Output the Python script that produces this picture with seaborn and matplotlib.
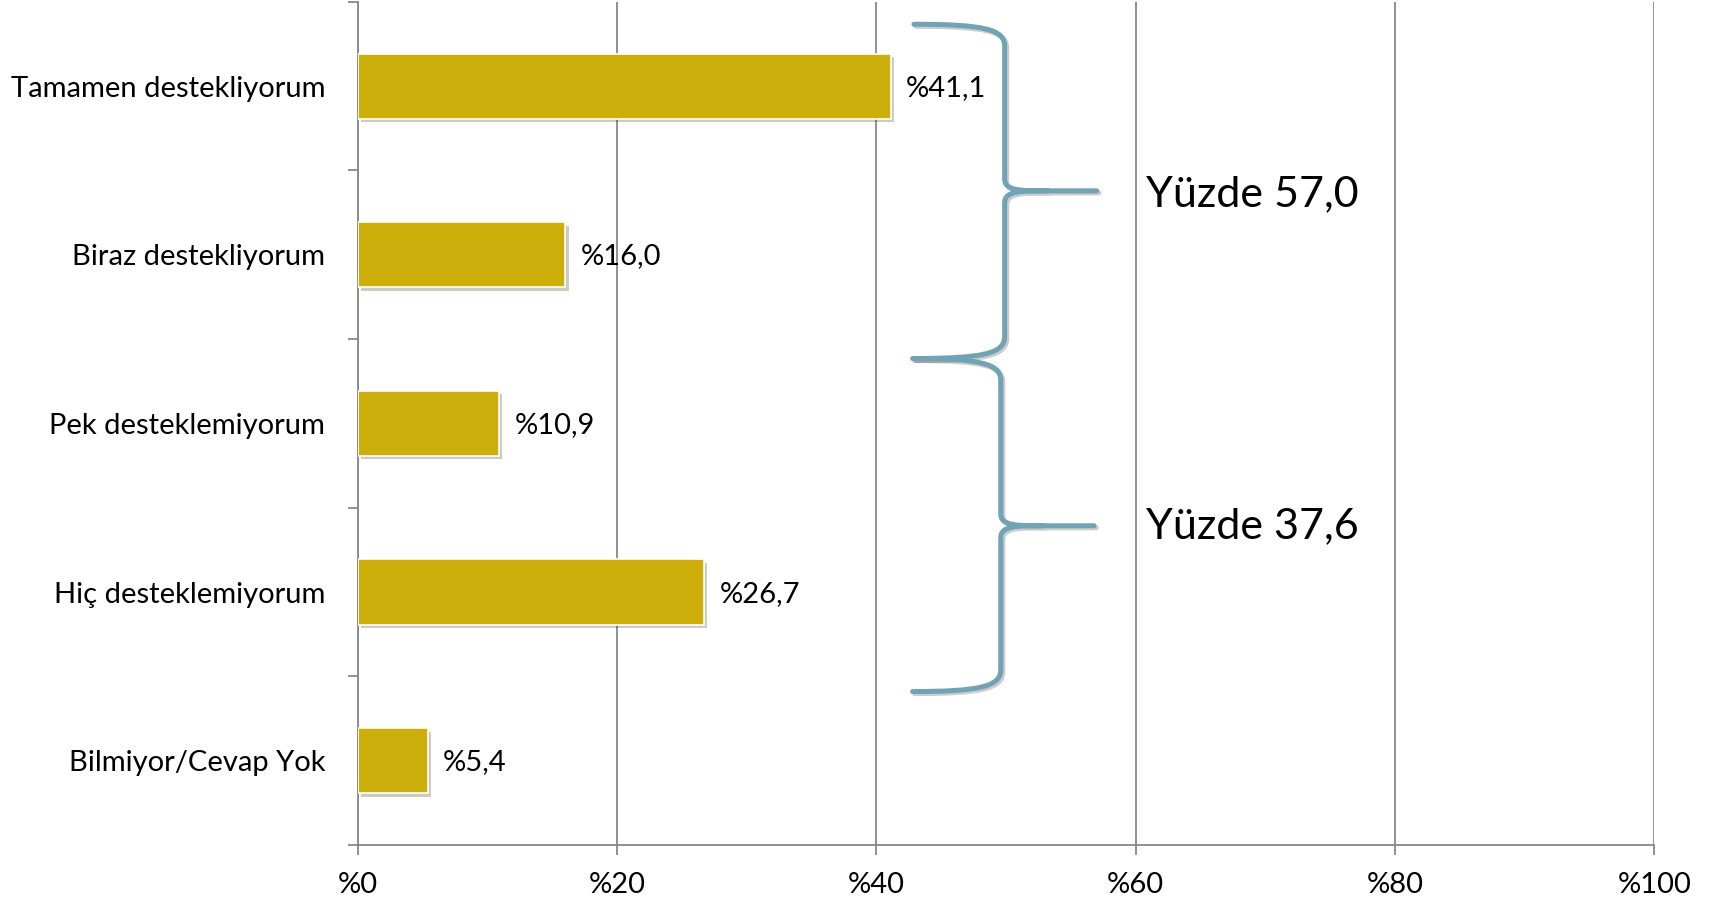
import numpy as np
import pandas as pd
import matplotlib
matplotlib.use("Agg")
import matplotlib.pyplot as plt
import matplotlib.patheffects as pe
from matplotlib.path import Path
from matplotlib.patches import PathPatch
import seaborn as sns

categories = ["Tamamen destekliyorum", "Biraz destekliyorum", "Pek desteklemiyorum",
              "Hiç desteklemiyorum", "Bilmiyor/Cevap Yok"]
values = [41.1, 16.0, 10.9, 26.7, 5.4]
xticks = [0, 20, 40, 60, 80, 100]
xtick_labels = ["%0", "%20", "%40", "%60", "%80", "%100"]
group_labels = ["Yüzde 57,0", "Yüzde 37,6"]

bar_color = "#CDAF0B"
grid_color = "#888888"
brace_color = "#70A3B3"


def brace(ax, x_tip, x_spine, x_point, y_top, y_mid, y_bot):
    # y axis is inverted (category 0 on top), units are data units
    r = 0.13
    rm = 0.07
    verts = [
        (x_tip, y_top),
        (x_spine - 1.6, y_top), (x_spine, y_top + 0.03), (x_spine, y_top + r),
        (x_spine, y_mid - rm),
        (x_spine, y_mid - 0.0), (x_spine + 1.2, y_mid), (x_spine + 3.3, y_mid),
        (x_point, y_mid),
        (x_spine + 3.3, y_mid),
        (x_spine + 1.2, y_mid), (x_spine, y_mid + 0.0), (x_spine, y_mid + rm),
        (x_spine, y_bot - r),
        (x_spine, y_bot - 0.03), (x_spine - 1.6, y_bot), (x_tip, y_bot),
    ]
    codes = [Path.MOVETO,
             Path.CURVE4, Path.CURVE4, Path.CURVE4,
             Path.LINETO,
             Path.CURVE4, Path.CURVE4, Path.CURVE4,
             Path.LINETO,
             Path.MOVETO,
             Path.CURVE4, Path.CURVE4, Path.CURVE4,
             Path.LINETO,
             Path.CURVE4, Path.CURVE4, Path.CURVE4]
    patch = PathPatch(Path(verts, codes), facecolor="none", edgecolor=brace_color,
                      lw=3.6, capstyle="round", joinstyle="round", zorder=5)
    patch.set_path_effects([pe.SimpleLineShadow(offset=(1.5, -1.5), alpha=0.2),
                            pe.Normal()])
    ax.add_patch(patch)


def main():
    sns.set_style("white")
    plt.rcParams["font.family"] = ["Lato", "DejaVu Sans"]
    plt.rcParams["text.color"] = "black"
    plt.rcParams["xtick.labelcolor"] = "black"
    plt.rcParams["ytick.labelcolor"] = "black"

    df = pd.DataFrame({"kategori": categories, "oran": values})

    fig = plt.figure(figsize=(17.13, 9.05), dpi=100)
    ax = fig.add_axes([0.2088, 0.0663, 0.9657 - 0.2088, 0.998 - 0.0663])

    sns.barplot(data=df, x="oran", y="kategori", orient="h", color=bar_color,
                saturation=1, width=0.386, edgecolor="white", linewidth=1.2, ax=ax)
    for bar in ax.patches:
        bar.set_path_effects([pe.SimplePatchShadow(offset=(2.5, -2.5), alpha=0.25),
                              pe.Normal()])
        bar.set_zorder(3)

    for i, v in enumerate(values):
        ax.text(v + 1.2, i + 0.01, "%" + f"{v:.1f}".replace(".", ","), va="center",
                ha="left", fontsize=21)

    ax.set_xlim(0, 100)
    ax.set_ylim(4.5, -0.5)
    ax.set_xticks(xticks)
    ax.set_xticklabels(xtick_labels, fontsize=21)
    ax.set_yticks(range(len(categories)))
    ax.set_yticklabels(categories, fontsize=21)
    ax.set_yticks(np.arange(-0.5, len(categories), 1.0), minor=True)
    ax.tick_params(axis="y", which="major", length=0, pad=23.5)
    ax.tick_params(axis="y", which="minor", length=7.2, width=1.3, color=grid_color,
                   direction="out", left=True)
    ax.tick_params(axis="x", which="major", length=7.2, width=1.3, color=grid_color,
                   direction="out", bottom=True, pad=12)
    ax.set_xlabel("")
    ax.set_ylabel("")

    ax.grid(axis="x", color=grid_color, lw=1.3)
    ax.grid(axis="y", visible=False)
    ax.set_axisbelow(True)
    for side in ["top", "right"]:
        ax.spines[side].set_visible(False)
    for side in ["left", "bottom"]:
        ax.spines[side].set_color(grid_color)
        ax.spines[side].set_linewidth(1.3)

    brace(ax, 42.9, 49.9, 57.0, -0.367, 0.621, 1.615)
    brace(ax, 42.8, 49.6, 56.8, 1.615, 2.607, 3.59)

    ax.text(60.8, 0.64, group_labels[0], va="center", ha="left", fontsize=31)
    ax.text(60.8, 2.61, group_labels[1], va="center", ha="left", fontsize=31)

    fig.savefig("out.png", dpi=100)


main()
